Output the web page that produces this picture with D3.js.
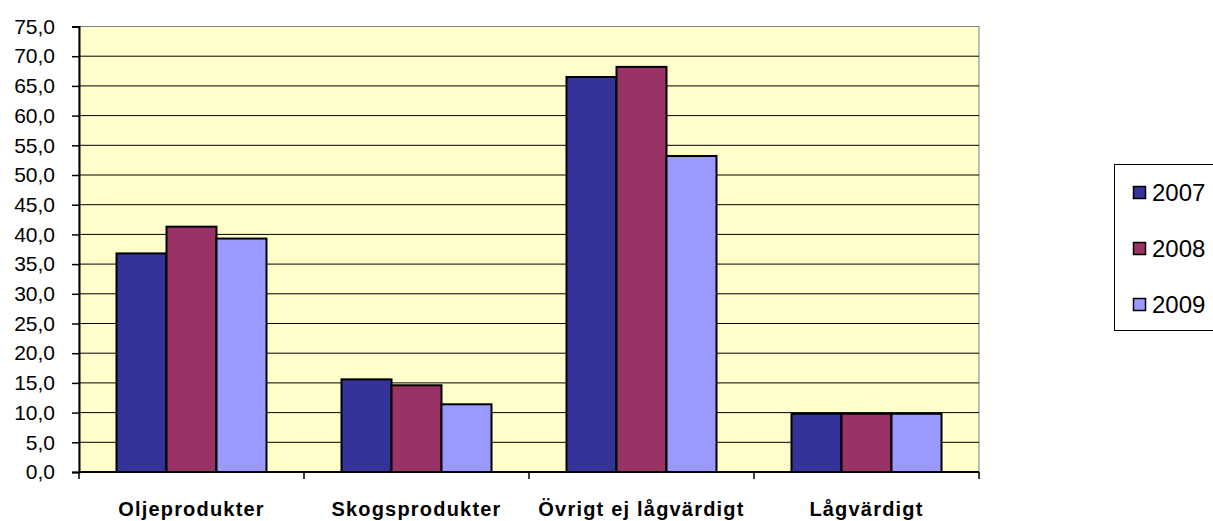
<!DOCTYPE html>
<html>
<head>
<meta charset="utf-8">
<script src="https://cdn.jsdelivr.net/npm/d3@7"></script>
<style>
  html, body { margin: 0; padding: 0; background: #ffffff; }
  svg { display: block; }
  text { font-family: "Liberation Sans", Arial, sans-serif; fill: #000; }
</style>
</head>
<body>
<svg id="chart" width="1213" height="521"></svg>
<script>
var categories = ["Oljeprodukter", "Skogsprodukter", "Övrigt ej lågvärdigt", "Lågvärdigt"];
var years = ["2007", "2008", "2009"];
var values2007 = [36.8, 15.6, 66.5, 9.8];
var values2008 = [41.3, 14.6, 68.2, 9.8];
var values2009 = [39.3, 11.4, 53.2, 9.8];
var yTicks = [0, 5, 10, 15, 20, 25, 30, 35, 40, 45, 50, 55, 60, 65, 70, 75];
var colors = ["#333399", "#993366", "#9999ff"];

var series = [values2007, values2008, values2009];

var svg = d3.select("#chart");
var plot = { left: 79, right: 979, top: 26.5, bottom: 472 };

var x = d3.scaleBand()
    .domain(categories)
    .range([plot.left, plot.right])
    .paddingInner(1 / 3)
    .paddingOuter(1 / 6);

var xInner = d3.scaleBand()
    .domain(years)
    .range([0, x.bandwidth()]);

var y = d3.scaleLinear()
    .domain([0, 75])
    .range([plot.bottom, plot.top]);

// plot background
svg.append("rect")
    .attr("x", plot.left)
    .attr("y", plot.top)
    .attr("width", plot.right - plot.left)
    .attr("height", plot.bottom - plot.top)
    .attr("fill", "#ffffcc")
    .attr("stroke", "#808080")
    .attr("stroke-width", 1);

// gridlines
svg.append("g")
    .selectAll("line")
    .data(yTicks.filter(function (d) { return d > 0 && d < 75; }))
    .enter().append("line")
    .attr("x1", plot.left)
    .attr("x2", plot.right)
    .attr("y1", function (d) { return y(d); })
    .attr("y2", function (d) { return y(d); })
    .attr("stroke", "#000")
    .attr("stroke-width", 1);

// bars
var groups = svg.append("g")
    .selectAll("g")
    .data(categories)
    .enter().append("g")
    .attr("transform", function (d) { return "translate(" + x(d) + ",0)"; });

groups.selectAll("rect")
    .data(function (d, i) {
        return years.map(function (yr, j) { return { year: yr, value: series[j][i], color: colors[j] }; });
    })
    .enter().append("rect")
    .attr("x", function (d) { return xInner(d.year); })
    .attr("y", function (d) { return y(d.value); })
    .attr("width", xInner.bandwidth())
    .attr("height", function (d) { return plot.bottom - y(d.value); })
    .attr("fill", function (d) { return d.color; })
    .attr("stroke", "#000")
    .attr("stroke-width", 2);

// y axis
var yAxis = d3.axisLeft(y)
    .tickValues(yTicks)
    .tickSize(7)
    .tickPadding(17)
    .tickFormat(function (d) { return d3.format(".1f")(d).replace(".", ","); });

var yg = svg.append("g")
    .attr("transform", "translate(" + plot.left + ",0)")
    .call(yAxis);
yg.select(".domain").attr("stroke", "#000").attr("stroke-width", 2);
yg.selectAll(".tick line").attr("stroke", "#000").attr("stroke-width", 1.5);
yg.selectAll(".tick text")
    .style("font-family", "Liberation Sans, Arial, sans-serif")
    .style("font-size", "21px")
    .attr("fill", "#000");

// x axis
var xAxis = svg.append("g");
xAxis.append("line")
    .attr("x1", plot.left)
    .attr("x2", plot.right)
    .attr("y1", plot.bottom)
    .attr("y2", plot.bottom)
    .attr("stroke", "#000")
    .attr("stroke-width", 2);

var boundaries = categories.map(function (c) { return x(c) - x.step() * x.paddingInner() / 2; });
boundaries.push(plot.right);
xAxis.selectAll("line.tick")
    .data(boundaries)
    .enter().append("line")
    .attr("class", "tick")
    .attr("x1", function (d) { return d; })
    .attr("x2", function (d) { return d; })
    .attr("y1", plot.bottom)
    .attr("y2", plot.bottom + 7)
    .attr("stroke", "#000")
    .attr("stroke-width", 1.5);

xAxis.selectAll("text")
    .data(categories)
    .enter().append("text")
    .attr("x", function (d) { return x(d) + x.bandwidth() / 2; })
    .attr("y", 516)
    .attr("text-anchor", "middle")
    .style("font-size", "20px")
    .style("font-weight", "bold")
    .style("letter-spacing", "1.2px")
    .text(function (d) { return d; });

// legend
var legend = svg.append("g").attr("transform", "translate(1114,164)");
legend.append("rect")
    .attr("x", 0.5)
    .attr("y", 0.5)
    .attr("width", 110)
    .attr("height", 166)
    .attr("fill", "#fff")
    .attr("stroke", "#000")
    .attr("stroke-width", 1);

var items = legend.selectAll("g.item")
    .data(years)
    .enter().append("g")
    .attr("class", "item")
    .attr("transform", function (d, i) { return "translate(0," + (28.5 + i * 56) + ")"; });

items.append("rect")
    .attr("x", 19.5)
    .attr("y", -6)
    .attr("width", 12)
    .attr("height", 12)
    .attr("fill", function (d, i) { return colors[i]; })
    .attr("stroke", "#000")
    .attr("stroke-width", 1.5);

items.append("text")
    .attr("x", 38)
    .attr("y", 8.5)
    .style("font-size", "24px")
    .text(function (d) { return d; });
</script>
</body>
</html>
